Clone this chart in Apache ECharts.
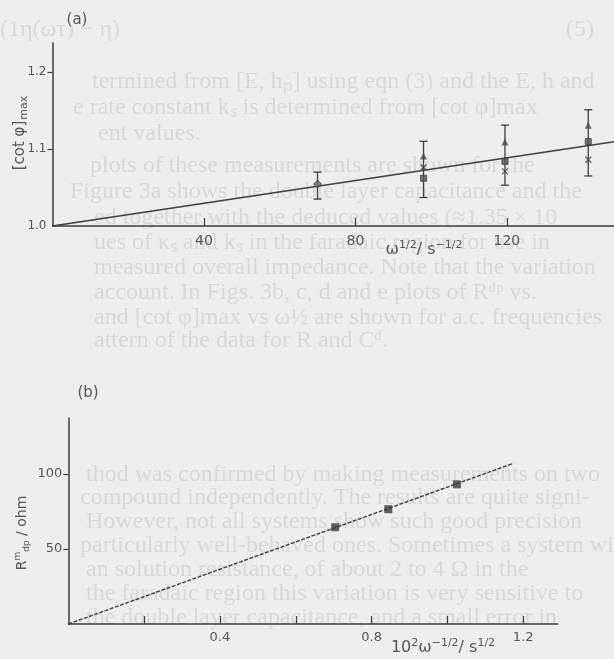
<!DOCTYPE html>
<html>
<head>
<meta charset="utf-8">
<script src="https://cdn.jsdelivr.net/npm/echarts@6/dist/echarts.min.js"></script>
<style>
body{margin:0;background:#ededed}
#main{width:614px;height:659px}
</style>
</head>
<body>
<div id="main"></div>
<script>
// ---- (a) [cot phi]max against omega^1/2 ----
var fitAX = [0, 148.3];
var fitAY = [1.0, 1.1095];
var errAX = [70, 98, 119.5, 141.5];
var errALow = [1.035, 1.037, 1.053, 1.065];
var errAHigh = [1.070, 1.110, 1.131, 1.151];
var triAX = [98, 119.5, 141.5];
var triAY = [1.091, 1.109, 1.131];
var sqAX = [98, 119.5, 141.5];
var sqAY = [1.062, 1.084, 1.1095];
var crossAX = [98, 119.5, 141.5];
var crossAY = [1.076, 1.071, 1.086];
var dotAX = [70];
var dotAY = [1.0545];
var ticksAX = [40, 80, 120];
var ticksAY = [1.0, 1.1, 1.2];

// ---- (b) R_dp against 10^2 omega^-1/2 ----
var fitBX = [0, 1.174];
var fitBY = [0, 107.1];
var ptsBX = [0.704, 0.844, 1.025];
var ptsBY = [64.5, 76.5, 93.1];
var ticksBX = [0.2, 0.4, 0.6, 0.8, 1.0, 1.2];
var labelsBX = [0.4, 0.8, 1.2];
var ticksBY = [50, 100];

// faint text of the printed page behind the figure
var pageLines = [
  '(1η(ωτ) − η)',
  '(5)',
  'termined from [E, h\u209a] using eqn (3) and the E, h and',
  'e rate constant k\u209b is determined from [cot φ]max',
  'ent values.',
  'plots of these measurements are shown for the',
  'Figure 3a shows the double layer capacitance and the',
  'ed together with the deduced values (≈1.35 × 10',
  'ues of κ\u209b and k\u209b in the faradaic region for use in',
  'measured overall impedance. Note that the variation',
  'account. In Figs. 3b, c, d and e plots of R\u1d48\u1d56 vs.',
  'and [cot φ]max vs ω½ are shown for a.c. frequencies',
  'attern of the data for R and C\u1d48.',
  'thod was confirmed by making measurements on two',
  'compound independently. The results are quite signi-',
  'However, not all systems show such good precision',
  'particularly well-behaved ones. Sometimes a system will',
  'an solution resistance, of about 2 to 4 Ω in the',
  'the faradaic region this variation is very sensitive to',
  'the double layer capacitance, and a small error in'
];
var pageLineX = [0, 566, 92, 73, 98, 90, 70, 94, 94, 94, 94, 94, 94, 86, 80, 86, 80, 86, 86, 86];
var pageLineY = [30, 30, 82, 108, 134, 166, 192, 218, 243, 268, 293, 318, 341, 475, 498, 522, 546, 570, 594, 618];

function zip(xs, ys) {
  var out = [];
  for (var i = 0; i < xs.length; i++) out.push([xs[i], ys[i]]);
  return out;
}

var ink = '#3d3d3d';
var labelColor = '#555';
var font = 'DejaVu Sans';

var errData = [];
for (var i = 0; i < errAX.length; i++) errData.push([errAX[i], errALow[i], errAHigh[i]]);

function renderErr(params, api) {
  var lo = api.coord([api.value(0), api.value(1)]);
  var hi = api.coord([api.value(0), api.value(2)]);
  var cap = 4;
  var st = {stroke: ink, lineWidth: 1.3};
  return {
    type: 'group',
    children: [
      {type: 'line', shape: {x1: lo[0], y1: lo[1], x2: hi[0], y2: hi[1]}, style: st},
      {type: 'line', shape: {x1: lo[0] - cap, y1: lo[1], x2: lo[0] + cap, y2: lo[1]}, style: st},
      {type: 'line', shape: {x1: hi[0] - cap, y1: hi[1], x2: hi[0] + cap, y2: hi[1]}, style: st}
    ]
  };
}

var axisLineStyle = {color: ink, width: 1.5};

var graphics = [];
for (var j = 0; j < pageLines.length; j++) {
  graphics.push({
    type: 'text', z: -10, x: pageLineX[j], y: pageLineY[j], silent: true,
    style: {text: pageLines[j], fill: '#d8d8d8', font: '24px "Liberation Serif"', verticalAlign: 'middle'}
  });
}
graphics.push(
  {type: 'text', x: 77, y: 20, style: {text: '(a)', fill: labelColor, font: '15px ' + font, align: 'center', verticalAlign: 'middle'}},
  {type: 'text', x: 88, y: 393, style: {text: '(b)', fill: labelColor, font: '15px ' + font, align: 'center', verticalAlign: 'middle'}},
  {
    type: 'text', x: 20, y: 133, rotation: Math.PI / 2,
    style: {
      text: '{m|[cot φ]}{s|max}', align: 'center', verticalAlign: 'middle', fill: labelColor,
      rich: {m: {fontSize: 15, fontFamily: font, fill: labelColor}, s: {fontSize: 11, fontFamily: font, fill: labelColor, padding: [9, 0, 0, 1]}}
    }
  },
  {
    type: 'text', x: 424, y: 250,
    style: {
      text: '{m|ω}{s|1/2}{m|/ s}{s|−1/2}', align: 'center', verticalAlign: 'middle', fill: labelColor,
      rich: {m: {fontSize: 16, fontFamily: font, fill: labelColor}, s: {fontSize: 11, fontFamily: font, fill: labelColor, padding: [0, 0, 10, 0]}}
    }
  },
  {
    type: 'text', x: 22, y: 533, rotation: Math.PI / 2,
    style: {
      text: '{m|R}{u|m}{d|dp}{m| / ohm}', align: 'center', verticalAlign: 'middle', fill: labelColor,
      rich: {
        m: {fontSize: 14, fontFamily: font, fill: labelColor},
        u: {fontSize: 9, fontFamily: font, fill: labelColor, padding: [0, 0, 9, 0]},
        d: {fontSize: 9, fontFamily: font, fill: labelColor, padding: [9, 0, 0, 0]}
      }
    }
  },
  {
    type: 'text', x: 443, y: 648,
    style: {
      text: '{m|10}{s|2}{m|ω}{s|−1/2}{m|/ s}{s|1/2}', align: 'center', verticalAlign: 'middle', fill: labelColor,
      rich: {m: {fontSize: 16, fontFamily: font, fill: labelColor}, s: {fontSize: 11, fontFamily: font, fill: labelColor, padding: [0, 0, 10, 0]}}
    }
  }
);

var chart = echarts.init(document.getElementById('main'));
var option = {
  backgroundColor: '#ededed',
  animation: false,
  grid: [
    {left: 52.5, right: 0, top: 43, bottom: 433},
    {left: 68.3, right: 56.3, top: 418, bottom: 35}
  ],
  xAxis: [
    {
      gridIndex: 0, type: 'value', min: 0, max: 148.3,
      axisLine: {lineStyle: axisLineStyle},
      axisTick: {inside: true, length: 8, customValues: ticksAX, lineStyle: {color: ink, width: 1.2}},
      axisLabel: {customValues: ticksAX, margin: 8, fontSize: 14, color: labelColor, fontFamily: font},
      splitLine: {show: false}
    },
    {
      gridIndex: 1, type: 'value', min: 0, max: 1.291,
      axisLine: {lineStyle: axisLineStyle},
      axisTick: {inside: true, length: 8, customValues: ticksBX, lineStyle: {color: ink, width: 1.2}},
      axisLabel: {customValues: labelsBX, margin: 7, fontSize: 13, color: labelColor, fontFamily: font,
        formatter: function (v) { return v.toFixed(1); }},
      splitLine: {show: false}
    }
  ],
  yAxis: [
    {
      gridIndex: 0, type: 'value', min: 1.0, max: 1.2377,
      axisLine: {lineStyle: axisLineStyle},
      axisTick: {length: 5, customValues: [1.1, 1.2], lineStyle: {color: ink, width: 1.2}},
      axisLabel: {customValues: ticksAY, margin: 6, fontSize: 12, color: labelColor, fontFamily: font,
        formatter: function (v) { return v.toFixed(1); }},
      splitLine: {show: false}
    },
    {
      gridIndex: 1, type: 'value', min: 0, max: 137.3,
      axisLine: {lineStyle: axisLineStyle},
      axisTick: {length: 5, customValues: ticksBY, lineStyle: {color: ink, width: 1.2}},
      axisLabel: {customValues: ticksBY, margin: 6, fontSize: 13, color: labelColor, fontFamily: font},
      splitLine: {show: false}
    }
  ],
  series: [
    {type: 'line', xAxisIndex: 0, yAxisIndex: 0, data: zip(fitAX, fitAY), symbol: 'none',
      lineStyle: {color: ink, width: 1.5}},
    {type: 'custom', xAxisIndex: 0, yAxisIndex: 0, data: errData, renderItem: renderErr, z: 3},
    {type: 'scatter', xAxisIndex: 0, yAxisIndex: 0, data: zip(triAX, triAY), symbol: 'triangle', symbolSize: 7,
      itemStyle: {color: '#4a4a4a'}, z: 4},
    {type: 'scatter', xAxisIndex: 0, yAxisIndex: 0, data: zip(sqAX, sqAY), symbol: 'rect', symbolSize: 6,
      itemStyle: {color: '#555', borderColor: ink, borderWidth: 1}, z: 4},
    {type: 'scatter', xAxisIndex: 0, yAxisIndex: 0, data: zip(crossAX, crossAY), symbol: 'path://M0,0L10,10M10,0L0,10',
      symbolSize: 6, itemStyle: {color: 'none', borderColor: ink, borderWidth: 1.3}, z: 4},
    {type: 'scatter', xAxisIndex: 0, yAxisIndex: 0, data: zip(dotAX, dotAY), symbol: 'diamond', symbolSize: 8,
      itemStyle: {color: '#666', borderColor: ink, borderWidth: 1}, z: 4},
    {type: 'line', xAxisIndex: 1, yAxisIndex: 1, data: zip(fitBX, fitBY), symbol: 'none',
      lineStyle: {color: ink, width: 1.4, type: [4, 1.5]}},
    {type: 'scatter', xAxisIndex: 1, yAxisIndex: 1, data: zip(ptsBX, ptsBY), symbol: 'rect', symbolSize: 8,
      itemStyle: {color: '#3a3a3a'}, z: 4}
  ],
  graphic: graphics
};
chart.setOption(option);
</script>
</body>
</html>
